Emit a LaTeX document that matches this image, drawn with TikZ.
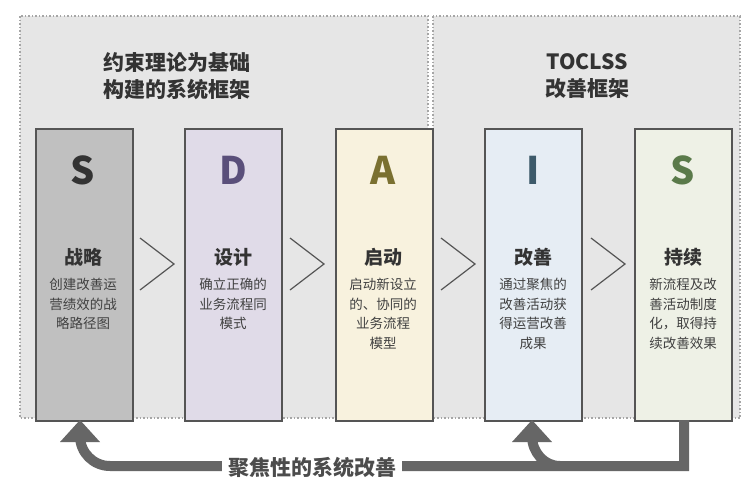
\documentclass[tikz,border=0pt]{standalone}
\usepackage{fontspec}
\setmainfont{Noto Sans CJK SC}
\usetikzlibrary{arrows.meta}
\definecolor{bord}{HTML}{555555}
\definecolor{regfill}{HTML}{E6E6E6}
\definecolor{f1}{HTML}{C0C0C0}
\definecolor{f2}{RGB}{224,219,232}
\definecolor{f3}{RGB}{248,242,222}
\definecolor{f4}{RGB}{230,237,244}
\definecolor{f5}{RGB}{238,241,230}
\definecolor{c1}{RGB}{51,51,51}
\definecolor{c2}{RGB}{90,79,122}
\definecolor{c3}{RGB}{122,112,48}
\definecolor{c4}{RGB}{61,90,106}
\definecolor{c5}{RGB}{90,122,74}
\tikzset{x=1pt,y=-1pt,
 region/.style={fill=regfill,draw=gray!70,dotted,line width=1.5pt},
 stage/.style={draw=bord,line width=2pt,minimum width=97pt,minimum height=292pt,anchor=north west},
 letter/.style={font=\bfseries\fontsize{38}{38}\selectfont},
 ttl/.style={font=\bfseries\fontsize{19}{20}\selectfont,text=black!80},
 desc/.style={font=\fontsize{13.5}{19.5}\selectfont,text=black!75,align=center,anchor=north},
 head/.style={font=\bfseries\fontsize{21}{27}\selectfont,text=black!80,align=center},
 chev/.style={draw=bord,line width=1.2pt},
 flow/.style={draw=black!60,line width=10pt}}
\begin{document}
\begin{tikzpicture}
\useasboundingbox (0,0) rectangle (756,485);
\fill[white] (0,0) rectangle (756,485);
\path[region] (20,16) rectangle (428,418);
\path[region] (433,16) rectangle (740,418);
\node[head] (h1) at (177,76) {约束理论为基础\\构建的系统框架};
\node[head] (h2) at (587,76) {TOCLSS\\改善框架};
\node[stage,fill=f1] (b1) at (35,128) {};
\node[stage,fill=f2] (b2) at (184,128) {};
\node[stage,fill=f3] (b3) at (335,128) {};
\node[stage,fill=f4] (b4) at (484,128) {};
\node[stage,fill=f5] (b5) at (634,128) {};
\node[letter,text=c1] (l1) at (83,170) {S};
\node[letter,text=c2] (l2) at (233,170) {D};
\node[letter,text=c3] (l3) at (383,170) {A};
\node[letter,text=c4] (l4) at (533,170) {I};
\node[letter,text=c5] (l5) at (683,170) {S};
\node[ttl] (t1) at (83,257) {战略};
\node[ttl] (t2) at (233,257) {设计};
\node[ttl] (t3) at (383,257) {启动};
\node[ttl] (t4) at (533,257) {改善};
\node[ttl] (t5) at (683,257) {持续};
\node[desc] (d1) at (83,275) {创建改善运\\营绩效的战\\略路径图};
\node[desc] (d2) at (233,275) {确立正确的\\业务流程同\\模式};
\node[desc] (d3) at (383,275) {启动新设立\\的、协同的\\业务流程\\模型};
\node[desc] (d4) at (533,275) {通过聚焦的\\改善活动获\\得运营改善\\成果};
\node[desc] (d5) at (683,275) {新流程及改\\善活动制度\\化，取得持\\续改善效果};
\foreach \x in {140,290,441,591}
  \draw[chev] (\x,238) -- (\x+34,264) -- (\x,290);
\coordinate (e) at (684,420);
\coordinate (k) at (684,466);
\draw[flow] (e) -- (k) -- (110,466) to[out=180,in=-90] (80,436);
\draw[flow] (560,466) to[out=180,in=-90] (532,436);
\fill[black!60] (60,442) -- (80,420) -- (100,442) -- cycle;
\fill[black!60] (512,442) -- (532,420) -- (552,442) -- cycle;
\node[fill=white,font=\bfseries\fontsize{21}{21}\selectfont,text=black!70,inner xsep=6pt] (lbl) at (312,467) {聚焦性的系统改善};
\end{tikzpicture}
\end{document}
